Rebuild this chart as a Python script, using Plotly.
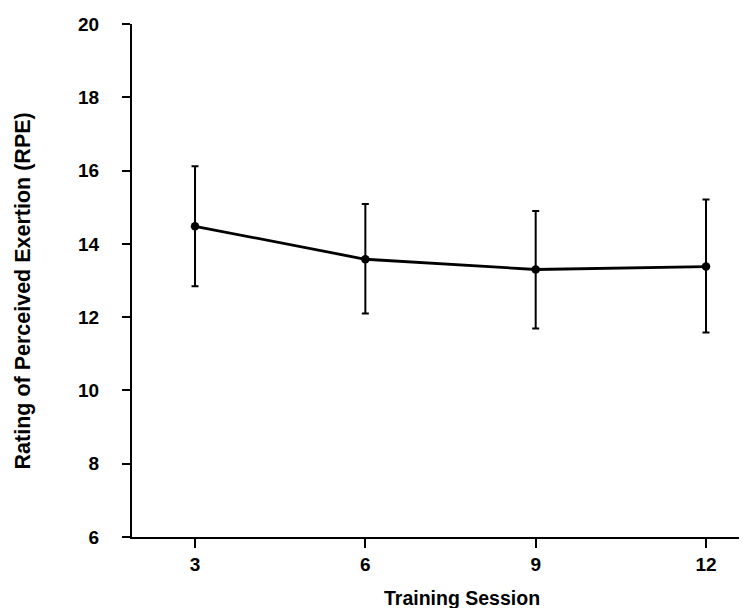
import plotly.graph_objects as go

sessions = [3, 6, 9, 12]
rpe_mean = [14.48, 13.58, 13.30, 13.38]
err_plus = [1.64, 1.51, 1.60, 1.83]
err_minus = [1.64, 1.48, 1.61, 1.80]
y_ticks = [6, 8, 10, 12, 14, 16, 18, 20]

FONT = "Liberation Sans, Arial, sans-serif"

fig = go.Figure()
fig.add_trace(go.Scatter(
    x=sessions, y=rpe_mean, mode="lines+markers",
    line=dict(color="black", width=2.8),
    marker=dict(color="black", size=8.5),
    error_y=dict(type="data", symmetric=False, array=err_plus, arrayminus=err_minus,
                 color="black", thickness=2, width=3.5),
    showlegend=False,
))

# page body has an 8px margin, so the figure is sized to fit the 747x608 window
fig.update_layout(
    width=739, height=600,
    margin=dict(l=124, r=0, t=15.5, b=71.3),
    plot_bgcolor="white", paper_bgcolor="white",
    font=dict(family=FONT, color="black"),
    xaxis=dict(range=[1.89, 12.722], tickvals=sessions, ticktext=[str(s) for s in sessions],
               showgrid=False, zeroline=False, showline=True, linecolor="black", linewidth=2,
               ticks="outside", ticklen=9, tickwidth=1.5, tickcolor="black",
               tickfont=dict(family=FONT, size=19, color="black", weight="bold"),
               ticklabelstandoff=0),
    yaxis=dict(range=[6, 20], tickvals=y_ticks, showgrid=False, zeroline=False,
               showline=True, linecolor="black", linewidth=2,
               ticks="outside", ticklen=8, tickwidth=1.5, tickcolor="black",
               tickfont=dict(family=FONT, size=19, color="black", weight="bold"),
               ticklabelstandoff=19),
    annotations=[
        dict(text="<b>Training Session</b>", xref="paper", yref="paper", x=0.5366, y=0,
             yshift=-60.7, xanchor="center", yanchor="middle", showarrow=False,
             font=dict(family=FONT, size=19.5, color="black")),
        dict(text="<b>Rating of Perceived Exertion (RPE)</b>", xref="paper", yref="paper",
             x=0, xshift=-109, y=0.4786, xanchor="center", yanchor="middle", textangle=-90,
             showarrow=False, font=dict(family=FONT, size=21.5, color="black")),
    ],
)

fig.write_html("out.html")
